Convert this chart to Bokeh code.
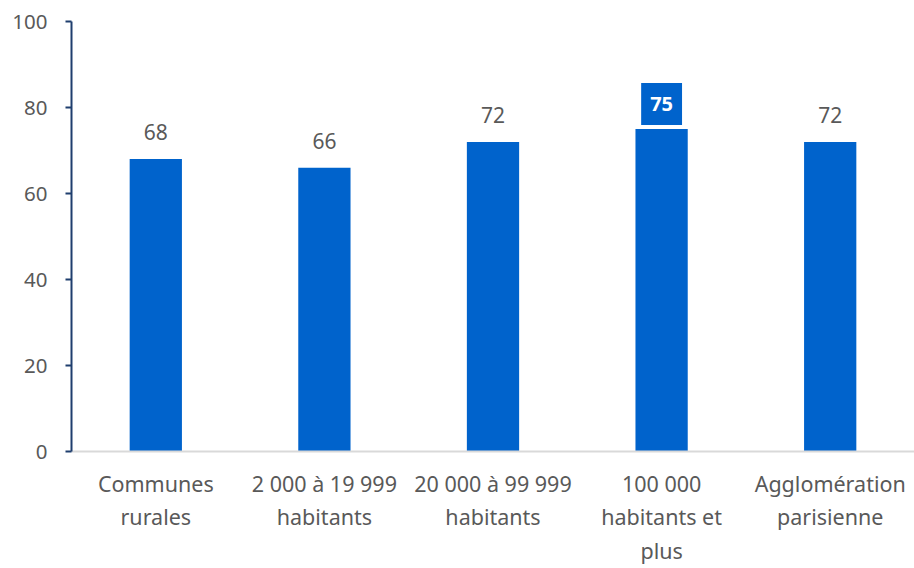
from bokeh.plotting import figure
from bokeh.models import ColumnDataSource, Range1d, LinearAxis, FixedTicker
from bokeh.core.properties import value
from bokeh.embed import file_html
from bokeh.resources import INLINE

# Data
categories = ["Communes rurales", "2 000 à 19 999 habitants", "20 000 à 99 999 habitants",
              "100 000 habitants et plus", "Agglomération parisienne"]
label_line1 = ["Communes", "2 000 à 19 999", "20 000 à 99 999", "100 000", "Agglomération"]
label_line2 = ["rurales", "habitants", "habitants", "habitants et", "parisienne"]
label_line3 = ["", "", "", "plus", ""]
values = [68, 66, 72, 75, 72]
highlight = [False, False, False, True, False]
y_ticks = [0, 20, 40, 60, 80, 100]

FONT = "Noto Sans"
GRAY = "#595959"
BLUE = "#0063CC"

pos = list(range(len(categories)))

p = figure(width=914, height=567, x_range=Range1d(-0.5, len(categories) - 0.5),
           y_range=Range1d(0, 100), output_backend="svg", toolbar_location=None,
           min_border_left=71, min_border_right=0, min_border_top=21, min_border_bottom=116)
p.outline_line_color = None
p.xgrid.grid_line_color = None
p.ygrid.grid_line_color = None

src = ColumnDataSource(dict(x=pos, top=values))
p.vbar(x="x", top="top", width=0.31, source=src, color=BLUE, line_color=None)

normal = ColumnDataSource(dict(x=[i for i, h in zip(pos, highlight) if not h],
                               y=[v for v, h in zip(values, highlight) if not h],
                               t=[str(v) for v, h in zip(values, highlight) if not h]))
hl = ColumnDataSource(dict(x=[i for i, h in zip(pos, highlight) if h],
                           y=[v for v, h in zip(values, highlight) if h],
                           t=[str(v) for v, h in zip(values, highlight) if h]))
p.text(x="x", y="y", text="t", source=normal, text_font=value(FONT), text_font_size="21px",
       text_color=GRAY, text_align="center", text_baseline="middle", y_offset=-27)
p.text(x="x", y="y", text="t", source=hl, text_font=value(FONT), text_font_size="20px",
       text_font_style="bold", text_color="white", text_align="center", text_baseline="middle",
       y_offset=-25, background_fill_color=BLUE,
       padding=dict(left=9, right=9, top=14, bottom=14))

# y axis
ya = p.yaxis[0]
ya.ticker = FixedTicker(ticks=y_ticks)
ya.axis_line_color = "#1F3E6E"
ya.axis_line_width = 2
ya.major_tick_line_color = "#1F3E6E"
ya.major_tick_line_width = 2
ya.major_tick_out = 6
ya.major_tick_in = 0
ya.minor_tick_line_color = None
ya.major_label_text_font = FONT
ya.major_label_text_font_size = "20.5px"
ya.major_label_text_color = GRAY
ya.major_label_standoff = 18

# x axes (three label lines)
xa = p.xaxis[0]
xa.axis_line_color = "#D9D9D9"
xa.axis_line_width = 2
xa.major_label_standoff = 17
extra = []
for lines, so in ((label_line2, 1), (label_line3, 2)):
    ax = LinearAxis(axis_line_color=None, major_label_standoff=so)
    p.add_layout(ax, "below")
    extra.append((ax, lines))
for ax, lines in [(xa, label_line1)] + extra:
    ax.ticker = FixedTicker(ticks=pos)
    ax.major_label_overrides = {i: t for i, t in zip(pos, lines)}
    ax.major_tick_line_color = None
    ax.minor_tick_line_color = None
    ax.major_tick_out = 0
    ax.major_tick_in = 0
    ax.major_label_text_font = FONT
    ax.major_label_text_font_size = "21.5px"
    ax.major_label_text_color = GRAY

open("out.html", "w").write(file_html(p, INLINE))
